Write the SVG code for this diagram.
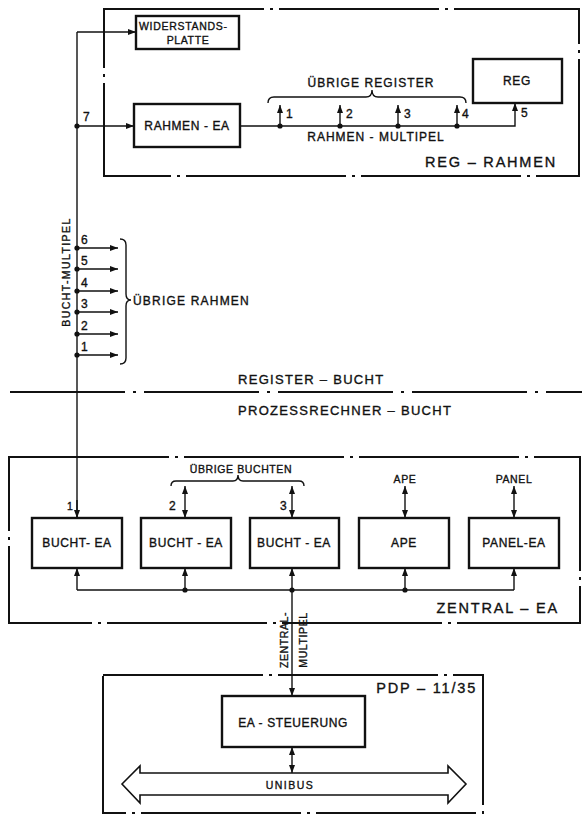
<svg xmlns="http://www.w3.org/2000/svg" width="582" height="816" viewBox="0 0 582 816">
<defs>
<style>
.box{fill:#fff;stroke:#111;stroke-width:2.4}
.frame{fill:none;stroke:#111;stroke-width:2;stroke-dasharray:160 6 3 6}
.ln{fill:none;stroke:#111;stroke-width:1.4}
.arr{fill:none;stroke:#111;stroke-width:1.4;marker-end:url(#ah)}
.darr{fill:none;stroke:#111;stroke-width:1.4;marker-end:url(#ah);marker-start:url(#ah)}
text{font-family:"Liberation Sans",Arial,sans-serif;fill:#111;stroke:#111;stroke-width:0.35;font-size:12px;letter-spacing:0.6px}
.c{text-anchor:middle}
.e{text-anchor:end}
.big{font-size:14.5px;letter-spacing:1.8px}
.sm{font-size:10.5px}
</style>
<marker id="ah" viewBox="0 0 8 6" refX="8" refY="3" markerWidth="8" markerHeight="6" markerUnits="userSpaceOnUse" orient="auto-start-reverse"><path d="M0,0 L8,3 L0,6 z" fill="#111"/></marker>
</defs>
<rect width="582" height="816" fill="#fff"/>

<g id="frames">
<rect class="frame" x="104" y="9" width="475" height="167"/>
<rect class="frame" x="9" y="457" width="571" height="166"/>
<rect class="frame" x="103" y="675" width="380" height="138"/>
<path d="M10,392 H582" fill="none" stroke="#111" stroke-width="2" stroke-dasharray="115 8 3 8"/>
</g>

<g id="connectors">
<path class="ln" d="M77,32 V518"/>
<path class="arr" d="M77,32 H136"/>
<path class="arr" d="M77,126 H134"/>
<path class="arr" d="M240,126 H515 V103"/>
<path class="arr" d="M280,126 V105"/>
<path class="arr" d="M340,126 V105"/>
<path class="arr" d="M398,126 V105"/>
<path class="arr" d="M457,126 V105"/>
<path class="arr" d="M77,248 H118"/>
<path class="arr" d="M77,269 H118"/>
<path class="arr" d="M77,291 H118"/>
<path class="arr" d="M77,312 H118"/>
<path class="arr" d="M77,334 H118"/>
<path class="arr" d="M77,355 H118"/>
<path class="arr" d="M77,500 V518"/>
<path class="ln" d="M77,590 H514"/>
<path class="arr" d="M77,590 V568"/>
<path class="arr" d="M185,590 V568"/>
<path class="arr" d="M292,590 V568"/>
<path class="arr" d="M405,590 V568"/>
<path class="arr" d="M514,590 V568"/>
<path class="darr" d="M185,486 V518"/>
<path class="darr" d="M292,486 V518"/>
<path class="darr" d="M405,486 V518"/>
<path class="darr" d="M514,486 V518"/>
<path class="arr" d="M292,590 V696"/>
<path class="darr" d="M292,747 V773"/>
<g fill="#111">
<circle cx="77" cy="126" r="2.6"/>
<circle cx="280" cy="126" r="2.6"/>
<circle cx="340" cy="126" r="2.6"/>
<circle cx="398" cy="126" r="2.6"/>
<circle cx="457" cy="126" r="2.6"/>
<circle cx="77" cy="248" r="2.6"/>
<circle cx="77" cy="269" r="2.6"/>
<circle cx="77" cy="291" r="2.6"/>
<circle cx="77" cy="312" r="2.6"/>
<circle cx="77" cy="334" r="2.6"/>
<circle cx="77" cy="355" r="2.6"/>
<circle cx="185" cy="590" r="2.6"/>
<circle cx="292" cy="590" r="2.6"/>
<circle cx="405" cy="590" r="2.6"/>
</g>
<path class="ln" d="M268,103 Q268,97 274,97 H366 Q372,97 372,90 Q372,97 378,97 H460 Q466,97 466,103"/>
<path class="ln" d="M120,239 Q126,239 126,245 V294 Q126,300 131,300 Q126,300 126,306 V358 Q126,364 120,364"/>
<path class="ln" d="M171,486 Q171,481 176,481 H233 Q238,481 238,475 Q238,481 243,481 H299 Q304,481 304,486"/>
</g>

<g id="widerstandsplatte">
<rect class="box" x="136" y="16" width="103" height="33"/>
<text x="139" y="30" class="sm" style="letter-spacing:0.7px">WIDERSTANDS-</text>
<text x="188" y="44" class="c sm">PLATTE</text>
</g>
<g id="rahmen-ea">
<rect class="box" x="134" y="104" width="106" height="43"/>
<text x="187" y="130" class="c">RAHMEN - EA</text>
</g>
<g id="reg">
<rect class="box" x="473" y="59" width="89" height="44"/>
<text x="517" y="85" class="c">REG</text>
</g>
<g id="labels-top">
<text x="371" y="87" class="c" style="letter-spacing:1.1px">ÜBRIGE REGISTER</text>
<text x="376" y="141" class="c" style="letter-spacing:1px">RAHMEN - MULTIPEL</text>
<text x="286" y="118">1</text>
<text x="346" y="118">2</text>
<text x="404" y="118">3</text>
<text x="462" y="118">4</text>
<text x="521" y="117">5</text>
<text x="83" y="121">7</text>
<text x="557" y="167" class="e big">REG – RAHMEN</text>
<text transform="translate(70,272) rotate(-90)" class="c sm" style="letter-spacing:1.4px">BUCHT-MULTIPEL</text>
<text x="81" y="244">6</text>
<text x="81" y="265">5</text>
<text x="81" y="287">4</text>
<text x="81" y="308">3</text>
<text x="81" y="330">2</text>
<text x="81" y="351">1</text>
<text x="133" y="305" style="letter-spacing:1.2px">ÜBRIGE RAHMEN</text>
<text x="238" y="384" style="font-size:13px;letter-spacing:1.3px">REGISTER – BUCHT</text>
<text x="238" y="415" style="font-size:13px;letter-spacing:1.3px">PROZESSRECHNER – BUCHT</text>
</g>

<g id="bucht-ea-1">
<rect class="box" x="32" y="518" width="90" height="50"/>
<text x="77" y="547" class="c">BUCHT- EA</text>
</g>
<g id="bucht-ea-2">
<rect class="box" x="141" y="518" width="90" height="50"/>
<text x="186" y="547" class="c">BUCHT - EA</text>
</g>
<g id="bucht-ea-3">
<rect class="box" x="250" y="518" width="89" height="50"/>
<text x="294" y="547" class="c">BUCHT - EA</text>
</g>
<g id="ape">
<rect class="box" x="359" y="518" width="90" height="50"/>
<text x="404" y="547" class="c">APE</text>
</g>
<g id="panel-ea">
<rect class="box" x="469" y="518" width="90" height="50"/>
<text x="514" y="547" class="c">PANEL-EA</text>
</g>
<g id="labels-mid">
<text x="67" y="510" class="sm">1</text>
<text x="169" y="510">2</text>
<text x="280" y="510">3</text>
<text x="405" y="483" class="c sm">APE</text>
<text x="514" y="483" class="c sm">PANEL</text>
<text x="241" y="473" class="c sm">ÜBRIGE BUCHTEN</text>
<text x="559" y="613" class="e big">ZENTRAL – EA</text>
<text transform="translate(288,640) rotate(-90)" class="c sm">ZENTRAL-</text>
<text transform="translate(307,640) rotate(-90)" class="c sm">MULTIPEL</text>
</g>

<g id="ea-steuerung">
<rect class="box" x="222" y="696" width="143" height="51"/>
<text x="293" y="727" class="c">EA - STEUERUNG</text>
</g>
<g id="unibus">
<polygon points="122,784 140,766 140,773 448,773 448,766 466,784 448,803 448,795 140,795 140,803" fill="#fff" stroke="#111" stroke-width="1.6" stroke-linejoin="miter"/>
<text x="290" y="789" class="c sm" style="letter-spacing:1.5px">UNIBUS</text>
</g>
<text x="477" y="693" class="e big">PDP – 11/35</text>
</svg>
